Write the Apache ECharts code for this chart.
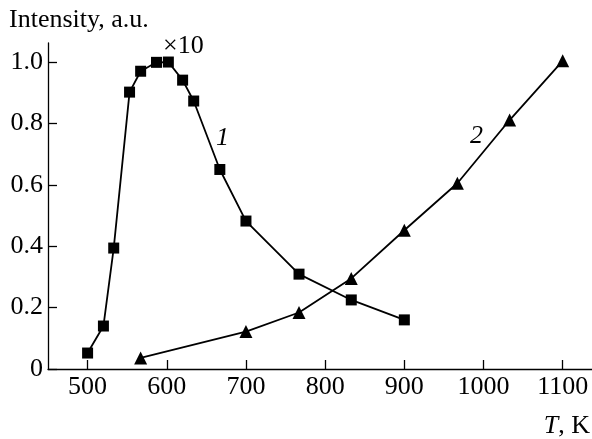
<!DOCTYPE html>
<html>
<head>
<meta charset="utf-8">
<script src="https://cdn.jsdelivr.net/npm/echarts@6/dist/echarts.min.js"></script>
<style>
html,body{margin:0;padding:0;background:#fff;}
#c{width:592px;height:439px;}
</style>
</head>
<body>
<div id="c"></div>
<script>
// Curve 1 (squares)
const series1T = [500, 520, 533, 553, 567, 587, 602, 620, 634, 667, 700, 767, 833, 900];
const series1I = [0.052, 0.14, 0.394, 0.902, 0.97, 0.999, 1.0, 0.941, 0.873, 0.65, 0.482, 0.309, 0.225, 0.16];
// Curve 2 (triangles)
const series2T = [567, 700, 767, 833, 900, 967, 1033, 1100];
const series2I = [0.036, 0.122, 0.184, 0.295, 0.452, 0.605, 0.811, 1.004];
// Tick labels
const xTicks = [500, 600, 700, 800, 900, 1000, 1100];
const yTicks = [0, 0.2, 0.4, 0.6, 0.8, 1.0];

const FONT = '"Liberation Serif", "Times New Roman", serif';
const FS = 26;
const chart = echarts.init(document.getElementById('c'));
const pairs = (xs, ys) => xs.map((x, i) => [x, ys[i]]);

chart.setOption({
  animation: false,
  backgroundColor: '#fff',
  grid: {left: 48, top: 43, right: 0, bottom: 70, containLabel: false},
  xAxis: {
    type: 'value', min: 450, max: 1137,
    axisLine: {show: true, lineStyle: {color: '#000', width: 1.3}},
    axisTick: {show: true, inside: true, length: 9, customValues: xTicks, lineStyle: {color: '#000', width: 1.3}},
    axisLabel: {customValues: xTicks, color: '#000', fontFamily: FONT, fontSize: FS, margin: 5,
      formatter: v => String(v)},
    splitLine: {show: false}
  },
  yAxis: {
    type: 'value', min: 0, max: 1.062,
    axisLine: {show: true, lineStyle: {color: '#000', width: 1.3}},
    axisTick: {show: true, inside: true, length: 9, customValues: yTicks, lineStyle: {color: '#000', width: 1.3}},
    axisLabel: {customValues: yTicks, color: '#000', fontFamily: FONT, fontSize: FS, margin: 5,
      formatter: v => v === 0 ? '0' : v.toFixed(1)},
    splitLine: {show: false}
  },
  series: [
    {type: 'line', data: pairs(series1T, series1I), symbol: 'rect', symbolSize: 11,
     lineStyle: {color: '#000', width: 1.8}, itemStyle: {color: '#000'}},
    {type: 'line', data: pairs(series2T, series2I), symbol: 'triangle', symbolSize: 13,
     lineStyle: {color: '#000', width: 1.8}, itemStyle: {color: '#000'}}
  ],
  graphic: [
    {type: 'text', left: 9, top: 7, style: {text: 'Intensity, a.u.', font: FS + 'px ' + FONT, fill: '#000'}},
    {type: 'text', left: 163, top: 33, style: {text: '×10', font: FS + 'px ' + FONT, fill: '#000'}},
    {type: 'text', left: 216, top: 125, style: {text: '1', font: 'italic ' + FS + 'px ' + FONT, fill: '#000'}},
    {type: 'text', left: 470, top: 123, style: {text: '2', font: 'italic ' + FS + 'px ' + FONT, fill: '#000'}},
    {type: 'text', right: 2, top: 413, style: {rich: {i: {fontStyle: 'italic', fontSize: FS, fontFamily: FONT, fill: '#000'}, n: {fontSize: FS, fontFamily: FONT, fill: '#000'}}, text: '{i|T}{n|, K}', fill: '#000'}}
  ]
});
</script>
</body>
</html>
